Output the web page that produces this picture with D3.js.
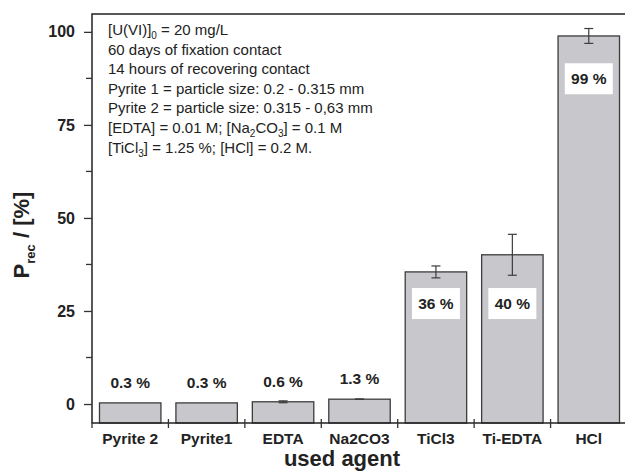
<!DOCTYPE html>
<html>
<head>
<meta charset="utf-8">
<script src="https://cdn.jsdelivr.net/npm/d3@7"></script>
<style>
  body { margin: 0; background: #fff; }
  text { font-family: "Liberation Sans", Arial, sans-serif; }
</style>
</head>
<body>
<div id="chart"></div>
<script>
// values
const agents = ["Pyrite 2", "Pyrite1", "EDTA", "Na2CO3", "TiCl3", "Ti-EDTA", "HCl"];
const recovery = [0.3, 0.3, 0.6, 1.3, 35.5, 40.1, 98.9];
const errors = [0, 0, 0.25, 0.05, 1.6, 5.5, 2.0];
const valueLabels = ["0.3 %", "0.3 %", "0.6 %", "1.3 %", "36 %", "40 %", "99 %"];
const yTicks = [0, 25, 50, 75, 100];
const yMinor = [12.5, 37.5, 62.5, 87.5];

const W = 625, H = 473;
const plotL = 92, plotT = 14, plotR = 627, plotB = 423;

const svg = d3.select("#chart").append("svg")
  .attr("width", W).attr("height", H);

const x = d3.scaleBand()
  .domain(agents)
  .range([plotL, plotR])
  .paddingInner(0.196)
  .paddingOuter(0.098);

const y = d3.scaleLinear()
  .domain([-5.1, 104.8])
  .range([plotB, plotT]);

// bars from the bottom of the frame
svg.append("g").selectAll("rect")
  .data(agents)
  .join("rect")
    .attr("x", d => x(d))
    .attr("width", x.bandwidth())
    .attr("y", (d, i) => y(recovery[i]))
    .attr("height", (d, i) => plotB - y(recovery[i]))
    .attr("fill", "#c8c8cc")
    .attr("stroke", "#3c3c3c")
    .attr("stroke-width", 1.3);

// error bars
const eb = svg.append("g").attr("stroke", "#3c3c3c").attr("stroke-width", 1.2);
agents.forEach((a, i) => {
  if (!errors[i]) return;
  const cx = x(a) + x.bandwidth() / 2;
  const y1 = y(recovery[i] + errors[i]), y2 = y(recovery[i] - errors[i]);
  eb.append("line").attr("x1", cx).attr("x2", cx).attr("y1", y1).attr("y2", y2);
  eb.append("line").attr("x1", cx - 4.5).attr("x2", cx + 4.5).attr("y1", y1).attr("y2", y1);
  eb.append("line").attr("x1", cx - 4.5).attr("x2", cx + 4.5).attr("y1", y2).attr("y2", y2);
});

// value labels
agents.forEach((a, i) => {
  const cx = x(a) + x.bandwidth() / 2;
  const v = recovery[i];
  if (v < 10) {
    svg.append("text")
      .attr("x", cx).attr("y", y(v) - 15)
      .attr("text-anchor", "middle")
      .attr("font-size", 15.5).attr("font-weight", "bold").attr("fill", "#222")
      .text(valueLabels[i]);
  } else {
    const cy = y(v > 50 ? v - 11.5 : 27);
    svg.append("rect")
      .attr("x", cx - 24).attr("y", cy - 15.5)
      .attr("width", 48).attr("height", 31)
      .attr("fill", "#fff");
    svg.append("text")
      .attr("x", cx).attr("y", cy + 5.5)
      .attr("text-anchor", "middle")
      .attr("font-size", 15.5).attr("font-weight", "bold").attr("fill", "#222")
      .text(valueLabels[i]);
  }
});

// frame
svg.append("rect")
  .attr("x", plotL).attr("y", plotT)
  .attr("width", plotR - plotL).attr("height", plotB - plotT)
  .attr("fill", "none").attr("stroke", "#222").attr("stroke-width", 1.5);

// y axis
const yAxis = svg.append("g")
  .attr("transform", `translate(${plotL},0)`)
  .call(d3.axisLeft(y).tickValues(yTicks).tickSize(8).tickPadding(9));
yAxis.select(".domain").remove();
yAxis.selectAll("line").attr("stroke", "#333").attr("stroke-width", 1.3);
yAxis.selectAll("text")
  .attr("font-size", 16).attr("font-weight", "bold").attr("fill", "#222")
  .attr("font-family", "Liberation Sans, Arial, sans-serif");

svg.append("g").selectAll("line")
  .data(yMinor)
  .join("line")
    .attr("x1", plotL - 6).attr("x2", plotL)
    .attr("y1", d => y(d)).attr("y2", d => y(d))
    .attr("stroke", "#333").attr("stroke-width", 1.3);

// x axis: ticks at category boundaries, crossing the axis
const bounds = [plotL].concat(agents.slice(1).map(a => x(a) - x.step() * x.paddingInner() / 2));
svg.append("g").selectAll("line")
  .data(bounds)
  .join("line")
    .attr("x1", d => d).attr("x2", d => d)
    .attr("y1", (d, i) => i === 0 ? plotB : plotB - 4)
    .attr("y2", plotB + 5)
    .attr("stroke", "#333").attr("stroke-width", 1.3);

svg.append("g").selectAll("text")
  .data(agents)
  .join("text")
    .attr("x", d => x(d) + x.bandwidth() / 2)
    .attr("y", 444)
    .attr("text-anchor", "middle")
    .attr("font-size", 15.5).attr("font-weight", "bold").attr("fill", "#222")
    .text(d => d);

// axis titles
svg.append("text")
  .attr("x", 342).attr("y", 466)
  .attr("text-anchor", "middle")
  .attr("font-size", 22).attr("font-weight", "bold").attr("fill", "#222")
  .text("used agent");

const yt = svg.append("text")
  .attr("transform", "translate(29,235) rotate(-90)")
  .attr("text-anchor", "middle")
  .attr("font-size", 22).attr("font-weight", "bold").attr("fill", "#222");
yt.append("tspan").text("P");
yt.append("tspan").attr("font-size", 13).attr("dy", 6).text("rec");
yt.append("tspan").attr("dy", -6).text(" / [%]");

// annotation block
const notes = [
  [["[U(VI)]"], ["0", "sub"], [" = 20 mg/L"]],
  [["60 days of fixation contact"]],
  [["14 hours of recovering contact"]],
  [["Pyrite 1 = particle size: 0.2 - 0.315 mm"]],
  [["Pyrite 2 = particle size: 0.315 - 0,63 mm"]],
  [["[EDTA] = 0.01 M; [Na"], ["2", "sub"], ["CO"], ["3", "sub"], ["] = 0.1 M"]],
  [["[TiCl"], ["3", "sub"], ["] = 1.25 %; [HCl] = 0.2 M."]]
];
notes.forEach((parts, li) => {
  const t = svg.append("text")
    .attr("x", 108).attr("y", 35 + li * 19.6)
    .attr("font-size", 15).attr("fill", "#222");
  let shifted = false;
  parts.forEach(p => {
    const ts = t.append("tspan").text(p[0]);
    if (p[1] === "sub") {
      ts.attr("font-size", 10).attr("dy", 4);
      shifted = true;
    } else if (shifted) {
      ts.attr("dy", -4);
      shifted = false;
    }
  });
});
</script>
</body>
</html>
